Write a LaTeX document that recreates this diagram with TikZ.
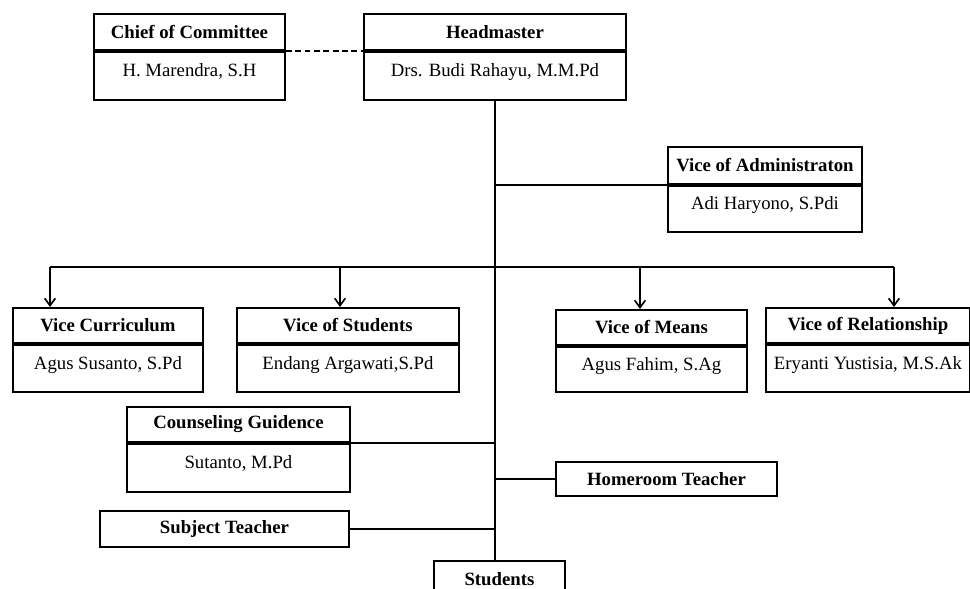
\documentclass[tikz,border=0pt]{standalone}
\usepackage{fontspec}
\setmainfont{Liberation Serif}
\usetikzlibrary{arrows.meta,calc}
\newcommand{\px}{0.03cm}

\begin{document}
\begin{tikzpicture}[x=\px,y=-\px,
	every node/.style={font=\fontsize{16}{18}\selectfont},
	title/.style={draw, line width=1.6pt, font=\fontsize{16}{18}\selectfont\bfseries, anchor=north west, inner sep=0pt},
	person/.style={draw, line width=1.6pt, anchor=north, inner sep=0pt, text height=11pt, text depth=9pt},
	link/.style={line width=1.4pt},
	down/.style={link, -{Straight Barb[length=2.2mm,width=3.2mm]}}]
	\useasboundingbox (0,0) rectangle (970,589);
	\clip (0,0) rectangle (970,589);

	% top row
	\node[title, minimum width=191*\px, minimum height=36*\px] (chief) at (93,13) {Chief of Committee};
	\node[person, minimum width=191*\px, minimum height=48*\px] (chiefname) at (chief.south) {H. Marendra, S.H};
	\node[title, minimum width=262*\px, minimum height=36*\px] (head) at (363,13) {Headmaster};
	\node[person, minimum width=262*\px, minimum height=48*\px] (headname) at (head.south) {Drs. Budi Rahayu, M.M.Pd};

	\node[title, minimum width=194*\px, minimum height=37*\px] (admin) at (667,146) {Vice of Administraton};
	\node[person, minimum width=194*\px, minimum height=46*\px] (adminname) at (admin.south) {Adi Haryono, S.Pdi};

	% vices
	\node[title, minimum width=190*\px, minimum height=35*\px] (curr) at (12,307) {Vice Curriculum};
	\node[person, minimum width=190*\px, minimum height=47*\px] (currname) at (curr.south) {Agus Susanto, S.Pd};
	\node[title, minimum width=222*\px, minimum height=35*\px] (vstud) at (236,307) {Vice of Students};
	\node[person, minimum width=222*\px, minimum height=47*\px] (vstudname) at (vstud.south) {Endang Argawati,S.Pd};
	\node[title, minimum width=191*\px, minimum height=35*\px] (means) at (555,309) {Vice of Means};
	\node[person, minimum width=191*\px, minimum height=45*\px] (meansname) at (means.south) {Agus Fahim, S.Ag};
	\node[title, minimum width=204*\px, minimum height=35*\px] (rel) at (765,307) {Vice of Relationship};
	\node[person, minimum width=204*\px, minimum height=47*\px] (relname) at (rel.south) {Eryanti Yustisia, M.S.Ak};

	% lower part
	\node[title, minimum width=223*\px, minimum height=35*\px] (couns) at (126,406) {Counseling Guidence};
	\node[person, minimum width=223*\px, minimum height=48*\px] (counsname) at (couns.south) {Sutanto, M.Pd};
	\node[title, minimum width=221*\px, minimum height=34*\px] (home) at (555,461) {Homeroom Teacher};
	\node[title, minimum width=249*\px, minimum height=36*\px] (subject) at (99,510) {Subject Teacher};
	\node[title, minimum width=131*\px, minimum height=36*\px] (students) at (433,560) {Students};

	\coordinate (bus) at (494,267);
	\coordinate (currtop) at ([xshift=38*\px]curr.north west);
	\coordinate (vstudtop) at ([xshift=104*\px]vstud.north west);
	\coordinate (meanstop) at ([xshift=85*\px]means.north west);
	\coordinate (reltop) at ([xshift=129*\px]rel.north west);

	\draw[link, dash pattern=on 5pt off 3pt] (chief.south east) -- (head.south west);
	\draw[link] (headname.south) -- (headname.south |- students.north);
	\draw[link] (headname.south |- admin.south) -- (admin.south west);

	\draw[link] (currtop |- bus) -- (reltop |- bus);
	\draw[down] (currtop |- bus) -- (currtop);
	\draw[down] (vstudtop |- bus) -- (vstudtop);
	\draw[down] (meanstop |- bus) -- (meanstop);
	\draw[down] (reltop |- bus) -- (reltop);

	\draw[link] (couns.south east) -- (couns.south east -| headname.south);
	\draw[link] (home.west -| headname.south) -- (home.west);
	\draw[link] (subject.east) -- (subject.east -| headname.south);
\end{tikzpicture}
\end{document}
